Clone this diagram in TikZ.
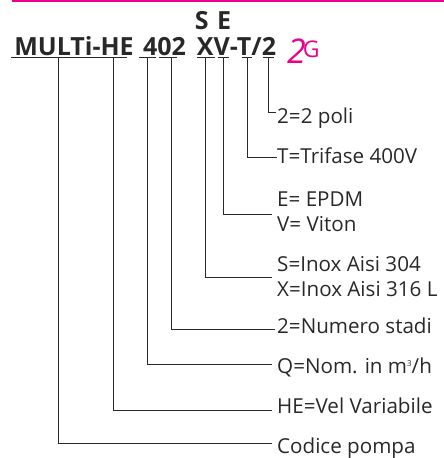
\documentclass[tikz,border=0pt]{standalone}
\usepackage{fontspec}
\setmainfont{Open Sans}
\usepackage{tikz}
\definecolor{magentaline}{RGB}{236,0,140}
\definecolor{darkline}{RGB}{40,40,40}
\tikzset{
  codetext/.style={font=\bfseries\fontsize{25}{26}\selectfont, text=darkline, inner sep=0pt, anchor=base},
  legendtext/.style={font=\fontsize{20.6}{22}\selectfont, text=darkline, inner sep=0pt, anchor=base west},
  brandtext/.style={text=magentaline, inner sep=0pt, anchor=base west},
  leader/.style={darkline, line width=0.8pt},
}
\begin{document}
\begin{tikzpicture}[x=1pt, y=-1pt]
    \useasboundingbox (0,0) rectangle (444,458);
    \fill[magentaline] (12,0) rectangle (444,1.6);

    % Codice
    \node[codetext] (se) at (213,29) {S\,\,E};
    \node[codetext] (multi) at (74,55) {MULTi-HE};
    \node[codetext] (num) at (164.5,55) {402};
    \node[codetext] (xv) at (236.5,55) {XV-T/2};
    \node[brandtext] (gen) at (287,63) {{\itshape\fontsize{34}{34}\selectfont 2}\kern-3pt\raisebox{6pt}{\fontsize{23}{23}\selectfont G}};

    % Sottolineature
    \coordinate (um) at (58,57.3);
    \coordinate (uh) at (113,57.3);
    \coordinate (uq) at (147.7,57.3);
    \coordinate (us) at (171.7,57.3);
    \coordinate (ux) at (205,57.3);
    \coordinate (uv) at (223,57.3);
    \coordinate (ut) at (247,57.3);
    \coordinate (up) at (268,57.3);
    \draw[leader] (11,57.3) -- (127,57.3);
    \draw[leader] (139,57.3) -- (156,57.3);
    \draw[leader] (159,57.3) -- (177,57.3);
    \draw[leader] (197,57.3) -- (215,57.3);
    \draw[leader] (218,57.3) -- (229,57.3);
    \draw[leader] (242,57.3) -- (252,57.3);
    \draw[leader] (263,57.3) -- (274,57.3);

    % Legenda
    \node[legendtext] (poli) at (277,123) {2=2 poli};
    \node[legendtext] (trifase) at (277,163) {T=Trifase 400V};
    \node[legendtext] (epdm) at (277,206) {E= EPDM};
    \node[legendtext] (viton) at (277,231) {V= Viton};
    \node[legendtext] (aisi) at (277,271) {S=Inox Aisi 304};
    \node[legendtext] (aisib) at (277,296) {X=Inox Aisi 316 L};
    \node[legendtext] (stadi) at (277,333) {2=Numero stadi};
    \node[legendtext] (nom) at (277,373) {Q=Nom. in m\raisebox{6.5pt}{\fontsize{8}{8}\selectfont 3}/h};
    \node[legendtext] (vel) at (277,413) {HE=Vel Variabile};
    \node[legendtext] (pompa) at (277,453) {Codice pompa};

    \coordinate (lp) at (276,112);
    \coordinate (lt) at (277,157);
    \coordinate (lv) at (272,214);
    \coordinate (lx) at (272,277);
    \coordinate (ls) at (275,329);
    \coordinate (ln) at (272,364);
    \coordinate (lh) at (272,410);
    \coordinate (lm) at (272,443);

    \draw[leader] (up) |- (lp);
    \draw[leader] (ut) |- (lt);
    \draw[leader] (uv) |- (lv);
    \draw[leader] (ux) |- (lx);
    \draw[leader] (us) |- (ls);
    \draw[leader] (uq) |- (ln);
    \draw[leader] (uh) |- (lh);
    \draw[leader] (um) |- (lm);
\end{tikzpicture}
\end{document}
